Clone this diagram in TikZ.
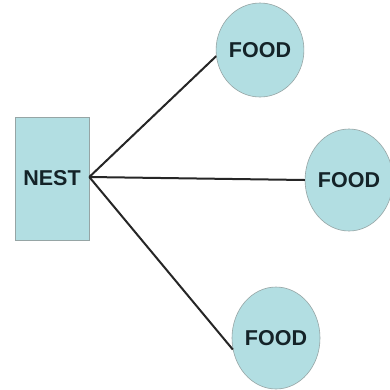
\documentclass[tikz,border=0pt]{standalone}
\usepackage{fontspec}
\setmainfont{Liberation Sans}
\usetikzlibrary{shapes.geometric}
\definecolor{boxfill}{RGB}{178,222,226}
\definecolor{boxline}{RGB}{150,165,165}
\definecolor{txt}{RGB}{20,35,40}
\begin{document}
\begin{tikzpicture}[x=1pt,y=-1pt,
  shapebox/.style={draw=boxline,line width=0.6pt,fill=boxfill,font=\bfseries\fontsize{21.5}{23}\selectfont,text=txt,inner sep=0pt},
  foodnode/.style={shapebox,ellipse},
  link/.style={line width=2pt,draw=black!85}]
\useasboundingbox[fill=white] (0,0) rectangle (390,389);
\node[shapebox,minimum width=74pt,minimum height=123pt] (nest) at (52,178.5) {NEST};
\node[foodnode,minimum width=82pt,minimum height=94pt] (f1) at (260,50) {FOOD};
\node[foodnode,minimum width=84pt,minimum height=102pt] (f2) at (349,180) {FOOD};
\node[foodnode,minimum width=88pt,minimum height=102pt] (f3) at (276,338) {FOOD};
\draw[link] ([yshift=1.5pt]nest.east) -- (f1.188);
\draw[link] ([yshift=1.5pt]nest.east) -- (f2.west);
\draw[link] ([yshift=1.5pt]nest.east) -- (f3.195);
\end{tikzpicture}
\end{document}
